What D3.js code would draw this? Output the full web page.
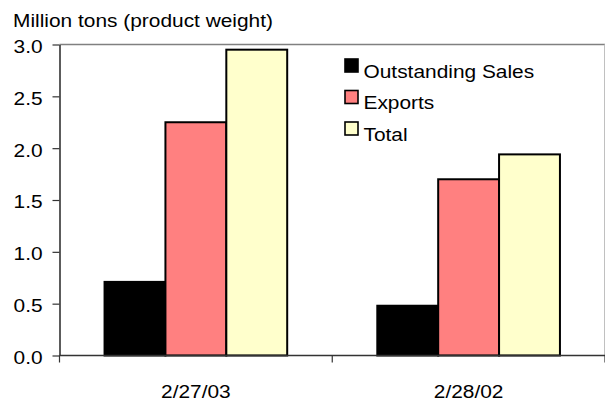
<!DOCTYPE html>
<html>
<head>
<meta charset="utf-8">
<script src="https://cdn.jsdelivr.net/npm/d3@7"></script>
<style>
  html, body { margin: 0; padding: 0; background: #fff; }
  svg { display: block; }
  text { font-family: "Liberation Sans", Arial, sans-serif; font-size: 18.5px; fill: #000; }
</style>
</head>
<body>
<svg id="chart" width="605" height="402"></svg>
<script>
// Dates compared and the three series shown for each
const categories = ["2/27/03", "2/28/02"];
const seriesNames = ["Outstanding Sales", "Exports", "Total"];
const outstandingSales = [0.71, 0.48];
const exportsValues = [2.25, 1.70];
const totalValues = [2.95, 1.94];
const yTicks = [0, 0.5, 1.0, 1.5, 2.0, 2.5, 3.0];
const yTitle = "Million tons (product weight)";

const seriesValues = [outstandingSales, exportsValues, totalValues];
const fills = ["#000000", "#FF8080", "#FFFFCC"];
const sx = 1.13; // horizontal text stretch

const svg = d3.select("#chart");
const plot = { left: 59.5, right: 605, top: 44.5, bottom: 355.5 };

const y = d3.scaleLinear().domain([0, 3]).range([plot.bottom, plot.top]);
const x0 = d3.scaleBand().domain(categories).range([plot.left, plot.right]).padding(0);
const x1 = d3.scaleBand().domain(seriesNames).range([0, x0.bandwidth()])
  .paddingInner(0).paddingOuter(0.74);

// Plot frame (top and right edges)
svg.append("line").attr("x1", plot.left).attr("x2", plot.right)
  .attr("y1", plot.top).attr("y2", plot.top)
  .attr("stroke", "#808080").attr("stroke-width", 1.6);
svg.append("line").attr("x1", plot.right - 0.5).attr("x2", plot.right - 0.5)
  .attr("y1", plot.top).attr("y2", plot.bottom)
  .attr("stroke", "#c0c0c0").attr("stroke-width", 1);

// Bars
const rows = categories.map((c, i) => ({ cat: c, vals: seriesNames.map((s, j) => ({ s, j, v: seriesValues[j][i] })) }));
const groups = svg.append("g").selectAll("g").data(rows).join("g")
  .attr("transform", d => `translate(${x0(d.cat)},0)`);
groups.selectAll("rect").data(d => d.vals).join("rect")
  .attr("x", d => x1(d.s))
  .attr("y", d => y(d.v))
  .attr("width", x1.bandwidth())
  .attr("height", d => y(0) - y(d.v))
  .attr("fill", d => fills[d.j])
  .attr("stroke", "#000")
  .attr("stroke-width", 2);

// Y axis
const yAxis = svg.append("g").attr("transform", `translate(${plot.left},0)`)
  .call(d3.axisLeft(y).tickValues(yTicks).tickFormat(d3.format(".1f")).tickSize(7).tickSizeOuter(0));
yAxis.select(".domain").attr("stroke", "#333").attr("stroke-width", 1.6);
yAxis.selectAll(".tick line").attr("stroke", "#333").attr("stroke-width", 1.2);
yAxis.selectAll(".tick text")
  .attr("x", -15).attr("dy", "0.43em")
  .attr("transform", `scale(${sx},1)`)
  .style("font-size", "18.5px").style("font-family", "'Liberation Sans', Arial, sans-serif")
  .attr("fill", "#000");

// X axis: ticks at category boundaries
const xAxis = svg.append("g").attr("transform", `translate(0,${plot.bottom})`);
xAxis.append("line").attr("x1", plot.left).attr("x2", plot.right)
  .attr("stroke", "#333").attr("stroke-width", 1.6);
const bounds = categories.map(c => x0(c)).concat([x0(categories[categories.length - 1]) + x0.bandwidth()]);
xAxis.selectAll("line.tk").data(bounds).join("line").attr("class", "tk")
  .attr("x1", d => d).attr("x2", d => d).attr("y1", 0).attr("y2", 7)
  .attr("stroke", "#333").attr("stroke-width", 1.2);
xAxis.selectAll("text").data(categories).join("text")
  .attr("transform", d => `translate(${x0(d) + x0.bandwidth() / 2},42.5) scale(${sx},1)`)
  .attr("text-anchor", "middle")
  .text(d => d);

// Axis title
svg.append("text")
  .attr("transform", `translate(13,26.5) scale(${sx},1)`)
  .text(yTitle);

// Legend
const legend = svg.append("g").selectAll("g").data(seriesNames).join("g")
  .attr("transform", (d, i) => `translate(345,${59 + i * 31.5})`);
legend.append("rect")
  .attr("width", 13).attr("height", 13)
  .attr("fill", (d, i) => fills[i])
  .attr("stroke", "#000").attr("stroke-width", 1.6);
legend.append("text")
  .attr("transform", `translate(18.5,18.5) scale(${sx},1)`)
  .text(d => d);
</script>
</body>
</html>
